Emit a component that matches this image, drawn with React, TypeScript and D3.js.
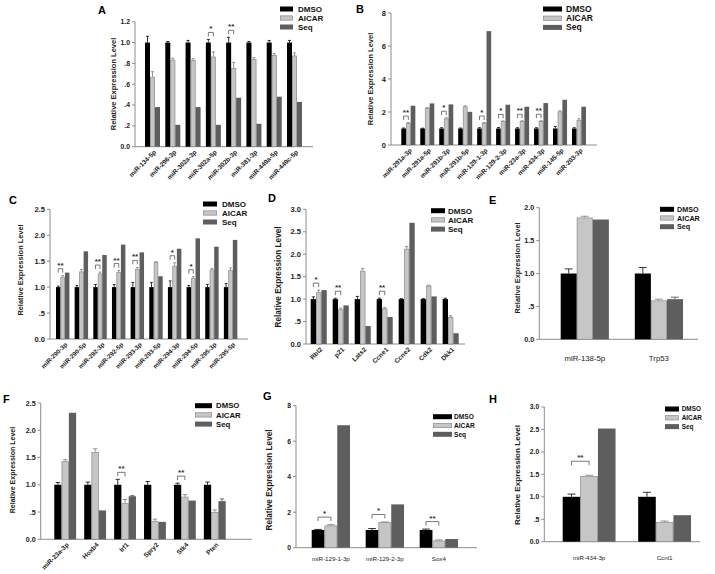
import React from 'react';
import * as d3 from 'd3';

const FONT = "'Liberation Sans', Arial, Helvetica, sans-serif";
const SERIES = ['DMSO', 'AICAR', 'Seq'];
const FILL = ['#000000', '#c6c6c6', '#5e5e5e'];
const STROKE = ['#000000', '#8a8a8a', '#5e5e5e'];
const ERRC = ['#000000', '#7a7a7a', '#444444'];

// ---------- Panel A ----------
const catsA = ['miR-134-5p', 'miR-296-3p', 'miR-302a-3p', 'miR-302a-5p', 'miR-302b-3p', 'miR-381-3p', 'miR-449a-5p', 'miR-449c-5p'];
const dmsoA = [1, 1, 1, 1, 1, 1, 1, 1];
const dmsoErrA = [1.06, 1.01, 1.02, 1.03, 1.05, 1.01, 1.02, 1.02];
const aicarA = [0.67, 0.835, 0.83, 0.865, 0.755, 0.84, 0.88, 0.875];
const aicarErrA = [0.72, 0.85, 0.845, 0.91, 0.81, 0.855, 0.895, 0.9];
const seqA = [0.38, 0.21, 0.38, 0.21, 0.47, 0.22, 0.48, 0.43];
const seqErrA = [0.38, 0.21, 0.38, 0.21, 0.47, 0.22, 0.48, 0.43];
const sigA = ['', '', '', '*', '**', '', '', ''];
const ticksA = [0, 0.2, 0.4, 0.6, 0.8, 1.0, 1.2];
const tickLabelsA = ['0.0', '.2', '.4', '.6', '.8', '1.0', '1.2'];

// ---------- Panel B ----------
const catsB = ['miR-291a-3p', 'miR-291a-5p', 'miR-291b-3p', 'miR-291b-5p', 'miR-129-1-3p', 'miR-129-2-3p', 'miR-23a-3p', 'miR-434-3p', 'miR-145-5p', 'miR-203-3p'];
const dmsoB = [1, 1, 1, 1, 1, 1, 1, 1, 1, 1];
const dmsoErrB = [1.03, 1.02, 1.05, 1.03, 1.05, 1.06, 1.05, 1.05, 1.12, 1.05];
const aicarB = [1.32, 2.24, 1.6, 2.34, 1.32, 1.44, 1.44, 1.44, 2.03, 1.52];
const aicarErrB = [1.36, 2.27, 1.65, 2.37, 1.36, 1.46, 1.47, 1.47, 2.07, 1.6];
const seqB = [2.38, 2.52, 2.46, 2.01, 6.9, 2.44, 2.32, 2.54, 2.74, 2.32];
const seqErrB = [2.38, 2.52, 2.46, 2.01, 6.9, 2.44, 2.32, 2.54, 2.74, 2.32];
const sigB = ['**', '', '*', '', '*', '*', '**', '**', '', ''];
const ticksB = [0, 2, 4, 6, 8];
const tickLabelsB = ['0', '2', '4', '6', '8'];

// ---------- Panel C ----------
const catsC = ['miR-290-3p', 'miR-290-5p', 'miR-292-3p', 'miR-292-5p', 'miR-293-3p', 'miR-293-5p', 'miR-294-3p', 'miR-294-5p', 'miR-295-3p', 'miR-295-5p'];
const dmsoC = [1, 1, 1, 1, 1, 1, 1, 1, 1, 1];
const dmsoErrC = [1.02, 1.03, 1.05, 1.05, 1.09, 1.09, 1.12, 1.03, 1.05, 1.07];
const aicarC = [1.2, 1.3, 1.26, 1.29, 1.35, 1.48, 1.41, 1.17, 1.34, 1.33];
const aicarErrC = [1.22, 1.34, 1.29, 1.32, 1.38, 1.49, 1.47, 1.2, 1.36, 1.37];
const seqC = [1.28, 1.69, 1.62, 1.82, 1.67, 1.21, 1.74, 1.94, 1.78, 1.91];
const seqErrC = [1.28, 1.69, 1.62, 1.82, 1.67, 1.21, 1.74, 1.94, 1.78, 1.91];
const sigC = ['**', '', '**', '**', '**', '', '*', '*', '', ''];
const ticksC = [0, 0.5, 1, 1.5, 2, 2.5];
const tickLabelsC = ['0.0', '.5', '1.0', '1.5', '2.0', '2.5'];

// ---------- Panel D ----------
const catsD = ['Rbl2', 'p21', 'Lats2', 'Ccne1', 'Ccne2', 'Cdk2', 'Dkk1'];
const dmsoD = [1, 1, 1, 1, 1, 1, 1];
const dmsoErrD = [1.05, 1.02, 1.06, 1.02, 1.01, 1.01, 1.02];
const aicarD = [1.15, 0.77, 1.63, 0.79, 2.12, 1.3, 0.6];
const aicarErrD = [1.2, 0.8, 1.68, 0.81, 2.17, 1.31, 0.63];
const seqD = [1.2, 0.86, 0.4, 0.6, 2.7, 1.06, 0.24];
const seqErrD = [1.2, 0.86, 0.4, 0.6, 2.7, 1.06, 0.24];
const sigD = ['*', '**', '', '**', '', '', ''];
const ticksD = [0, 0.5, 1, 1.5, 2, 2.5, 3];
const tickLabelsD = ['0.0', '.5', '1.0', '1.5', '2.0', '2.5', '3.0'];

// ---------- Panel E ----------
const catsE = ['miR-138-5p', 'Trp53'];
const dmsoE = [1, 1];
const dmsoErrE = [1.07, 1.09];
const aicarE = [1.85, 0.59];
const aicarErrE = [1.87, 0.61];
const seqE = [1.82, 0.61];
const seqErrE = [1.82, 0.64];
const sigE = ['', ''];
const ticksE = [0, 0.5, 1, 1.5, 2];
const tickLabelsE = ['0.0', '.5', '1.0', '1.5', '2.0'];

// ---------- Panel F ----------
const catsF = ['miR-23a-3p', 'Hoxb4', 'Irf1', 'Spry2', 'Stk4', 'Pten'];
const dmsoF = [1, 1, 1, 1, 1, 1];
const dmsoErrF = [1.04, 1.05, 1.1, 1.06, 1.03, 1.05];
const aicarF = [1.43, 1.6, 0.66, 0.33, 0.78, 0.5];
const aicarErrF = [1.46, 1.66, 0.73, 0.37, 0.82, 0.54];
const seqF = [2.32, 0.53, 0.79, 0.32, 0.71, 0.7];
const seqErrF = [2.32, 0.53, 0.8, 0.32, 0.71, 0.74];
const sigF = ['', '', '**', '', '**', ''];
const ticksF = [0, 0.5, 1, 1.5, 2, 2.5];
const tickLabelsF = ['0.0', '.5', '1.0', '1.5', '2.0', '2.5'];

// ---------- Panel G ----------
const catsG = ['miR-129-1-3p', 'miR-129-2-3p', 'Sox4'];
const dmsoG = [1, 1, 1];
const dmsoErrG = [1.03, 1.08, 1.05];
const aicarG = [1.25, 1.43, 0.4];
const aicarErrG = [1.3, 1.45, 0.44];
const seqG = [6.9, 2.44, 0.49];
const seqErrG = [6.9, 2.44, 0.49];
const sigG = ['*', '*', '**'];
const ticksG = [0, 2, 4, 6, 8];
const tickLabelsG = ['0', '2', '4', '6', '8'];

// ---------- Panel H ----------
const catsH = ['miR-434-3p', 'Ccnl1'];
const dmsoH = [1, 1];
const dmsoErrH = [1.06, 1.1];
const aicarH = [1.46, 0.44];
const aicarErrH = [1.48, 0.46];
const seqH = [2.52, 0.59];
const seqErrH = [2.52, 0.59];
const sigH = ['**', ''];
const ticksH = [0, 0.5, 1, 1.5, 2, 2.5, 3];
const tickLabelsH = ['0.0', '.5', '1.0', '1.5', '2.0', '2.5', '3.0'];

const YLABEL = 'Relative Expression Level';

type PanelData = {
  cats: string[];
  values: number[][];
  errs: number[][];
  sig: string[];
  ticks: number[];
  tickLabels: string[];
  yMax: number;
};

type Layout = {
  letter: string; lx: number; ly: number;
  ax0: number; ax1: number; ay0: number; ay1: number;
  g0: number; g1: number; pad: number;
  rotate: boolean; labFs: number; labDx: number; labDy: number; labBold: boolean;
  yLx: number; yLy: number; yLfs: number; tickFs: number;
  legX: number; legY: number; legW: number; legDy: number; legTx: number; legFs: number;
  sigGap: number;
};

const mk = (cats: string[], d: number[], de: number[], a: number[], ae: number[], s: number[], se: number[], sig: string[], ticks: number[], tl: string[]): PanelData => ({
  cats, values: [d, a, s], errs: [de, ae, se], sig, ticks, tickLabels: tl, yMax: ticks[ticks.length - 1],
});

const dataA = mk(catsA, dmsoA, dmsoErrA, aicarA, aicarErrA, seqA, seqErrA, sigA, ticksA, tickLabelsA);
const dataB = mk(catsB, dmsoB, dmsoErrB, aicarB, aicarErrB, seqB, seqErrB, sigB, ticksB, tickLabelsB);
const dataC = mk(catsC, dmsoC, dmsoErrC, aicarC, aicarErrC, seqC, seqErrC, sigC, ticksC, tickLabelsC);
const dataD = mk(catsD, dmsoD, dmsoErrD, aicarD, aicarErrD, seqD, seqErrD, sigD, ticksD, tickLabelsD);
const dataE = mk(catsE, dmsoE, dmsoErrE, aicarE, aicarErrE, seqE, seqErrE, sigE, ticksE, tickLabelsE);
const dataF = mk(catsF, dmsoF, dmsoErrF, aicarF, aicarErrF, seqF, seqErrF, sigF, ticksF, tickLabelsF);
const dataG = mk(catsG, dmsoG, dmsoErrG, aicarG, aicarErrG, seqG, seqErrG, sigG, ticksG, tickLabelsG);
const dataH = mk(catsH, dmsoH, dmsoErrH, aicarH, aicarErrH, seqH, seqErrH, sigH, ticksH, tickLabelsH);

const layA: Layout = { letter: 'A', lx: 98, ly: 14, ax0: 135, ax1: 313, ay0: 146.7, ay1: 21.7, g0: 145, g1: 302, pad: 0.26,
  rotate: true, labFs: 6.5, labDx: 4, labDy: 6, labBold: true, yLx: 113, yLy: 84, yLfs: 7.5, tickFs: 6.8,
  legX: 280, legY: 9, legW: 13, legDy: 9, legTx: 298, legFs: 8, sigGap: 3 };
const layB: Layout = { letter: 'B', lx: 356, ly: 13, ax0: 391, ax1: 597, ay0: 145, ay1: 13, g0: 401.3, g1: 586, pad: 0.26,
  rotate: true, labFs: 6.5, labDx: 4, labDy: 6, labBold: true, yLx: 370, yLy: 79, yLfs: 7.5, tickFs: 7.5,
  legX: 543, legY: 9, legW: 19, legDy: 9.2, legTx: 566, legFs: 8.5, sigGap: 2.5 };
const layC: Layout = { letter: 'C', lx: 9, ly: 204, ax0: 50, ax1: 248, ay0: 339, ay1: 209.3, g0: 56, g1: 237.3, pad: 0.28,
  rotate: true, labFs: 6.3, labDx: 5, labDy: 6, labBold: true, yLx: 20, yLy: 270, yLfs: 7.4, tickFs: 7.5,
  legX: 203, legY: 204, legW: 14, legDy: 9, legTx: 222, legFs: 8, sigGap: 3 };
const layD: Layout = { letter: 'D', lx: 268, ly: 202, ax0: 306, ax1: 465, ay0: 344, ay1: 209.3, g0: 310.7, g1: 458.7, pad: 0.27,
  rotate: true, labFs: 6.5, labDx: 4, labDy: 6, labBold: true, yLx: 278, yLy: 277, yLfs: 8.2, tickFs: 7.5,
  legX: 431, legY: 210.7, legW: 14, legDy: 9.2, legTx: 448, legFs: 8, sigGap: 3 };
const layE: Layout = { letter: 'E', lx: 489, ly: 204, ax0: 539.3, ax1: 698, ay0: 339.3, ay1: 207.7, g0: 560.7, g1: 683, pad: 0.35,
  rotate: false, labFs: 7.8, labDx: 0, labDy: 21.5, labBold: false, yLx: 517, yLy: 268, yLfs: 7.4, tickFs: 7.2,
  legX: 660, legY: 209.3, legW: 14, legDy: 8.7, legTx: 677, legFs: 7.2, sigGap: 3 };
const layF: Layout = { letter: 'F', lx: 3, ly: 403, ax0: 40.7, ax1: 252, ay0: 539.3, ay1: 403, g0: 54.3, g1: 225.7, pad: 0.27,
  rotate: true, labFs: 6.5, labDx: 4, labDy: 6, labBold: true, yLx: 13, yLy: 470, yLfs: 7, tickFs: 7.2,
  legX: 195, legY: 405.7, legW: 17, legDy: 9.2, legTx: 216, legFs: 7.8, sigGap: 3 };
const layG: Layout = { letter: 'G', lx: 263, ly: 400, ax0: 296, ax1: 477, ay0: 547.7, ay1: 405.7, g0: 311.7, g1: 458, pad: 0.29,
  rotate: false, labFs: 6.2, labDx: 0, labDy: 12.8, labBold: false, yLx: 269, yLy: 480, yLfs: 8.2, tickFs: 6.8,
  legX: 433, legY: 416.7, legW: 19, legDy: 8.8, legTx: 454, legFs: 6.6, sigGap: 3.5 };
const layH: Layout = { letter: 'H', lx: 489, ly: 403, ax0: 544.3, ax1: 700, ay0: 541.7, ay1: 407, g0: 562.7, g1: 691, pad: 0.3,
  rotate: false, labFs: 6.2, labDx: 0, labDy: 18.3, labBold: false, yLx: 517, yLy: 475, yLfs: 8.1, tickFs: 6.8,
  legX: 665, legY: 409, legW: 14, legDy: 8.8, legTx: 681.7, legFs: 6.4, sigGap: 10 };

function Panel({ data, lay }: { data: PanelData; lay: Layout }) {
  const y = d3.scaleLinear().domain([0, data.yMax]).range([lay.ay0, lay.ay1]);
  const x = d3.scaleBand<string>().domain(data.cats).range([lay.g0, lay.g1]).paddingInner(lay.pad).paddingOuter(0);
  const xs = d3.scaleBand<string>().domain(SERIES).range([0, x.bandwidth()]);
  const bw = xs.bandwidth();
  const axisColor = '#8c8c8c';

  return (
    <g fontFamily={FONT}>
      <text x={lay.lx} y={lay.ly} fontSize={11} fontWeight="bold" fill="#000">{lay.letter}</text>
      {/* axes */}
      <line x1={lay.ax0} x2={lay.ax0} y1={lay.ay0} y2={lay.ay1} stroke={axisColor} strokeWidth={1} />
      <line x1={lay.ax0} x2={lay.ax1} y1={lay.ay0} y2={lay.ay0} stroke={axisColor} strokeWidth={1} />
      {data.ticks.map((t, i) => (
        <g key={'t' + i}>
          <line x1={lay.ax0 - 3} x2={lay.ax0} y1={y(t)} y2={y(t)} stroke={axisColor} strokeWidth={1} />
          <text x={lay.ax0 - 5} y={y(t)} dy="0.35em" textAnchor="end" fontSize={lay.tickFs} fontWeight="bold" fill="#222">
            {data.tickLabels[i]}
          </text>
        </g>
      ))}
      <text transform={`translate(${lay.yLx},${lay.yLy}) rotate(-90)`} textAnchor="middle" dy="0.35em"
        fontSize={lay.yLfs} fontWeight="bold" fill="#222">{YLABEL}</text>
      {/* bars */}
      {data.cats.map((c, i) => (
        <g key={'c' + i}>
          {SERIES.map((s, si) => {
            const v = data.values[si][i];
            const bx = (x(c) as number) + (xs(s) as number);
            const sw = si === 1 ? 0.7 : 0;
            return (
              <rect key={s} x={bx + sw / 2} y={y(v) + sw / 2} width={bw - sw} height={Math.max(0, y(0) - y(v) - sw / 2)}
                fill={FILL[si]} stroke={si === 1 ? STROKE[si] : 'none'} strokeWidth={sw} />
            );
          })}
          {SERIES.map((s, si) => {
            const v = data.values[si][i];
            const e = data.errs[si][i];
            if (e <= v + 1e-9) return null;
            const cx = (x(c) as number) + (xs(s) as number) + bw / 2;
            const cap = Math.min(bw * 0.3, 4);
            return (
              <g key={'e' + s} stroke={ERRC[si]} strokeWidth={0.8}>
                <line x1={cx} x2={cx} y1={y(v)} y2={y(e)} />
                <line x1={cx - cap} x2={cx + cap} y1={y(e)} y2={y(e)} />
              </g>
            );
          })}
        </g>
      ))}
      {/* significance */}
      {data.cats.map((c, i) => {
        const mark = data.sig[i];
        if (!mark) return null;
        const x1 = (x(c) as number) + (xs('DMSO') as number) + bw / 2;
        const x2 = (x(c) as number) + (xs('AICAR') as number) + bw / 2;
        const top = Math.min(y(data.errs[0][i]), y(data.errs[1][i]), y(data.values[0][i]), y(data.values[1][i])) - lay.sigGap - 4;
        return (
          <g key={'s' + i}>
            <path d={`M${x1},${top + 4}V${top}H${x2}V${top + 4}`} fill="none" stroke="#555" strokeWidth={0.8} />
            <text x={(x1 + x2) / 2} y={top - 1} textAnchor="middle" fontSize={8} fontWeight="bold" fill="#333">{mark}</text>
          </g>
        );
      })}
      {/* x labels */}
      {data.cats.map((c, i) => {
        const cx = (x(c) as number) + x.bandwidth() / 2;
        if (lay.rotate) {
          return (
            <text key={'l' + i} transform={`translate(${cx + lay.labDx},${lay.ay0 + lay.labDy}) rotate(-45)`} textAnchor="end"
              fontSize={lay.labFs} fontWeight="bold" fill="#222">{c}</text>
          );
        }
        return (
          <text key={'l' + i} x={cx} y={lay.ay0 + lay.labDy} textAnchor="middle" fontSize={lay.labFs}
            fontWeight={lay.labBold ? 'bold' : 'normal'} fill="#222">{c}</text>
        );
      })}
      {/* legend */}
      {SERIES.map((s, si) => {
        const ry = lay.legY + si * lay.legDy;
        return (
          <g key={'lg' + s}>
            <rect x={lay.legX + (si === 1 ? 0.35 : 0)} y={ry - 2.5 + (si === 1 ? 0.35 : 0)} width={lay.legW - (si === 1 ? 0.7 : 0)}
              height={5 - (si === 1 ? 0.7 : 0)} fill={FILL[si]} stroke={si === 1 ? STROKE[si] : 'none'} strokeWidth={si === 1 ? 0.7 : 0} />
            <text x={lay.legTx} y={ry} dy="0.35em" fontSize={lay.legFs} fontWeight="bold" fill="#111">{s}</text>
          </g>
        );
      })}
    </g>
  );
}

export default function App() {
  return (
    <svg width={715} height={574} style={{ position: 'absolute', left: 0, top: 0, background: '#fff' }}>
      <rect x={0} y={0} width={715} height={574} fill="#fff" />
      <Panel data={dataA} lay={layA} />
      <Panel data={dataB} lay={layB} />
      <Panel data={dataC} lay={layC} />
      <Panel data={dataD} lay={layD} />
      <Panel data={dataE} lay={layE} />
      <Panel data={dataF} lay={layF} />
      <Panel data={dataG} lay={layG} />
      <Panel data={dataH} lay={layH} />
    </svg>
  );
}
